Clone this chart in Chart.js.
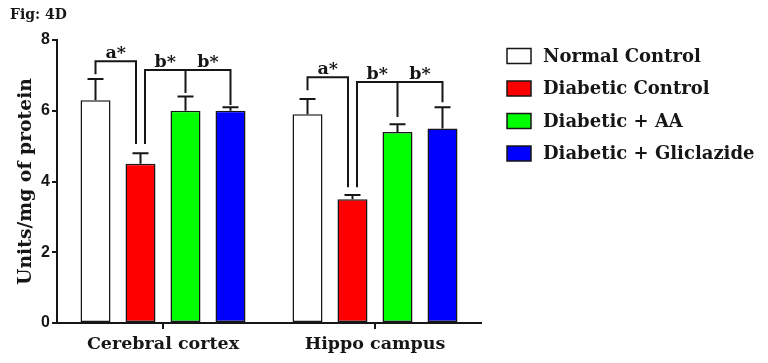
<!DOCTYPE html>
<html>
<head>
<meta charset="utf-8">
<script src="https://cdn.jsdelivr.net/npm/chart.js@4.4.0/dist/chart.umd.min.js"></script>
<style>
  html, body { margin: 0; padding: 0; background: #fff; }
</style>
</head>
<body>
<canvas id="fig4d" width="768" height="363"></canvas>
<script>
var regions = ['Cerebral cortex', 'Hippo campus'];
var groupNames = ['Normal Control', 'Diabetic Control', 'Diabetic + AA', 'Diabetic + Gliclazide'];
var groupColors = ['#ffffff', '#ff0000', '#00ff00', '#0000ff'];

// mean values (Units/mg of protein)
var normalControl = [6.3, 5.9];
var diabeticControl = [4.5, 3.5];
var diabeticAA = [6.0, 5.4];
var diabeticGliclazide = [6.0, 5.5];

// upper end of each error bar
var normalControlErr = [6.9, 6.33];
var diabeticControlErr = [4.8, 3.62];
var diabeticAAErr = [6.4, 5.62];
var diabeticGliclazideErr = [6.1, 6.1];

var yTicks = [0, 2, 4, 6, 8];

// significance brackets, in data units: top line, then where each leg stops
var aBracketTop = [7.4, 6.95];
var aBracketEnds = [[7.03, 5.06], [6.58, 3.84]];
var bBracketTop = [7.15, 6.81];
var bBracketEnds = [[5.06, 6.5, 6.16], [3.84, 5.82, 6.24]];

var serif = '"DejaVu Serif", serif';
var ink = '#161616';

var seriesValues = [normalControl, diabeticControl, diabeticAA, diabeticGliclazide];
var seriesErrors = [normalControlErr, diabeticControlErr, diabeticAAErr, diabeticGliclazideErr];

// error bars, brackets and stars drawn over the bars
var annotations = {
    id: 'annotations',
    afterDatasetsDraw: function(chart) {
        var ctx = chart.ctx;
        var y = chart.scales.y;
        var metas = seriesValues.map(function(v, i) { return chart.getDatasetMeta(i); });
        ctx.save();
        ctx.strokeStyle = ink;
        ctx.lineWidth = 2;

        seriesErrors.forEach(function(errs, i) {
            metas[i].data.forEach(function(bar, j) {
                var yt = y.getPixelForValue(errs[j]);
                ctx.beginPath();
                ctx.moveTo(bar.x, bar.y);
                ctx.lineTo(bar.x, yt);
                ctx.moveTo(bar.x - 8, yt);
                ctx.lineTo(bar.x + 8, yt);
                ctx.stroke();
            });
        });

        ctx.fillStyle = ink;
        ctx.font = 'bold 17.5px ' + serif;
        ctx.textAlign = 'center';
        ctx.textBaseline = 'alphabetic';
        regions.forEach(function(r, j) {
            var x0 = metas[0].data[j].x, x1 = metas[1].data[j].x;
            var x2 = metas[2].data[j].x, x3 = metas[3].data[j].x;
            var ta = y.getPixelForValue(aBracketTop[j]);
            var tb = y.getPixelForValue(bBracketTop[j]);
            var ea = aBracketEnds[j], eb = bBracketEnds[j];
            var xl = x1 - 4.5, xr = x1 + 4.5;

            ctx.beginPath();
            ctx.moveTo(x0, y.getPixelForValue(ea[0]));
            ctx.lineTo(x0, ta);
            ctx.lineTo(xl, ta);
            ctx.lineTo(xl, y.getPixelForValue(ea[1]));
            ctx.moveTo(xr, y.getPixelForValue(eb[0]));
            ctx.lineTo(xr, tb);
            ctx.lineTo(x3, tb);
            ctx.lineTo(x3, y.getPixelForValue(eb[2]));
            ctx.moveTo(x2, tb);
            ctx.lineTo(x2, y.getPixelForValue(eb[1]));
            ctx.stroke();

            ctx.fillText('a*', (x0 + xl) / 2, ta - 3);
            ctx.fillText('b*', (xr + x2) / 2, tb - 3);
            ctx.fillText('b*', (x2 + x3) / 2, tb - 3);
        });
        ctx.restore();
    },
    afterDraw: function(chart) {
        // legend to the right of the plot
        var ctx = chart.ctx;
        var left = chart.chartArea.right + 26;
        var top = chart.chartArea.top + 16;
        ctx.save();
        ctx.font = 'bold 18px ' + serif;
        ctx.textBaseline = 'middle';
        ctx.textAlign = 'left';
        chart.data.datasets.forEach(function(ds, i) {
            var cy = top + i * 32.5;
            ctx.fillStyle = ds.backgroundColor;
            ctx.fillRect(left, cy - 7.5, 24, 15);
            ctx.strokeStyle = ink;
            ctx.lineWidth = 1.5;
            ctx.strokeRect(left, cy - 7.5, 24, 15);
            ctx.fillStyle = ink;
            ctx.fillText(ds.label, left + 36, cy + 1);
        });
        ctx.restore();
    }
};

var ctx = document.getElementById('fig4d').getContext('2d');
var chart = new Chart(ctx, {
    type: 'bar',
    data: {
        labels: regions,
        datasets: groupNames.map(function(name, i) {
            return {
                label: name,
                data: seriesValues[i],
                backgroundColor: groupColors[i],
                borderColor: ink,
                borderWidth: 1.5,
                borderSkipped: false,
                barPercentage: 0.667,
                categoryPercentage: 0.849
            };
        })
    },
    options: {
        responsive: false,
        animation: false,
        devicePixelRatio: 1,
        layout: { padding: { left: 10, right: 287, top: 0, bottom: 0 } },
        plugins: {
            legend: { display: false },
            tooltip: { enabled: false },
            title: {
                display: true,
                text: 'Fig: 4D',
                align: 'start',
                color: ink,
                font: { family: serif, size: 14, weight: 'bold' },
                padding: { top: 7, bottom: 16.2 }
            }
        },
        scales: {
            x: {
                grid: { drawOnChartArea: false, offset: false, tickLength: 6, color: ink, lineWidth: 2 },
                border: { color: ink, width: 2 },
                ticks: { color: ink, padding: 5, font: { family: serif, size: 17.5, weight: 'bold' } },
                afterFit: function(scale) { scale.height = 40; }
            },
            y: {
                min: 0,
                max: 8,
                grid: { drawOnChartArea: false, tickLength: 5, color: ink, lineWidth: 2 },
                border: { color: ink, width: 2 },
                ticks: { color: ink, padding: 2, font: { family: '"Liberation Sans", Arial, sans-serif', size: 16, weight: 'bold' } },
                afterBuildTicks: function(scale) {
                    scale.ticks = yTicks.map(function(v) { return { value: v }; });
                },
                title: {
                    display: true,
                    text: 'Units/mg of protein',
                    color: ink,
                    font: { family: serif, size: 18.8, weight: 'bold' },
                    padding: { top: 5, bottom: 0 }
                },
                afterFit: function(scale) { scale.width = 47; }
            }
        }
    },
    plugins: [annotations]
});
</script>
</body>
</html>
